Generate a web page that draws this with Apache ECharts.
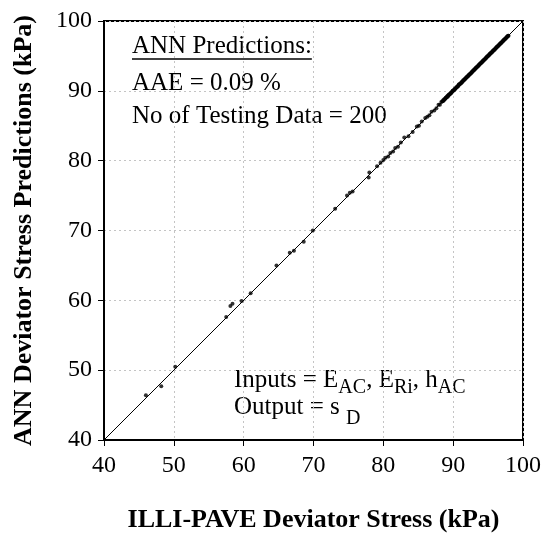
<!DOCTYPE html>
<html>
<head>
<meta charset="utf-8">
<script src="https://cdn.jsdelivr.net/npm/echarts@6/dist/echarts.min.js"></script>
<style>
  html, body { margin: 0; padding: 0; background: #fff; }
  #chart { width: 546px; height: 544px; }
</style>
</head>
<body>
<div id="chart"></div>
<script>
// axis range and ticks
const axisMin = 40
const axisMax = 100
const tickStep = 10

// line of equality
const equalityLine = [[40, 40], [100, 100]]

// [ILLI-PAVE, ANN] pairs
const testPoints = [
  [46.0, 46.4], [48.2, 47.7], [50.2, 50.5], [57.5, 57.6], [58.1, 59.2],
  [58.4, 59.5], [59.7, 59.9], [61.0, 61.0], [64.7, 65.0], [66.6, 66.8],
  [67.2, 67.1], [68.6, 68.4], [69.9, 70.0], [73.1, 73.1], [74.8, 75.0],
  [75.2, 75.4], [75.6, 75.6], [77.9, 77.6], [78.0, 78.3], [79.1, 79.2],
  [79.6, 79.7], [80.0, 80.1], [80.3, 80.4], [80.7, 80.6], [81.0, 81.1],
  [81.4, 81.3], [81.7, 81.8], [82.1, 82.0], [82.5, 82.6], [83.0, 83.3],
  [83.6, 83.5], [84.2, 84.1], [84.8, 84.9], [85.1, 85.0], [85.5, 85.6],
  [86.0, 86.1], [86.3, 86.3], [86.6, 86.5], [86.9, 87.0], [87.3, 87.2],
  [87.6, 87.5], [87.9, 88.0], [88.1, 88.0], [88.3, 88.4], [88.45, 88.5],
  [88.52, 88.5], [88.6, 88.7], [88.66, 88.6], [88.73, 88.8], [88.8, 88.8],
  [88.88, 88.9], [88.93, 89.0], [89.0, 89.0], [89.07, 89.1], [89.12, 89.1],
  [89.2, 89.3], [89.26, 89.2], [89.33, 89.4], [89.4, 89.4], [89.46, 89.5],
  [89.51, 89.5], [89.6, 89.6], [89.65, 89.7], [89.72, 89.7], [89.8, 89.8],
  [89.86, 89.9], [89.93, 90.0], [90.0, 90.0], [90.05, 90.1], [90.11, 90.1],
  [90.2, 90.2], [90.25, 90.3], [90.31, 90.3], [90.4, 90.4], [90.46, 90.5],
  [90.52, 90.5], [90.6, 90.6], [90.67, 90.7], [90.73, 90.7], [90.8, 90.9],
  [90.86, 90.9], [90.92, 90.9], [91.0, 91.0], [91.07, 91.1], [91.13, 91.1],
  [91.2, 91.2], [91.26, 91.3], [91.33, 91.3], [91.4, 91.4], [91.45, 91.5],
  [91.52, 91.5], [91.6, 91.6], [91.66, 91.7], [91.71, 91.7], [91.8, 91.8],
  [91.86, 91.9], [91.93, 91.9], [92.0, 92.0], [92.06, 92.1], [92.12, 92.1],
  [92.2, 92.2], [92.26, 92.3], [92.32, 92.3], [92.4, 92.4], [92.47, 92.5],
  [92.53, 92.5], [92.6, 92.6], [92.66, 92.7], [92.72, 92.7], [92.8, 92.8],
  [92.86, 92.9], [92.93, 92.9], [93.0, 93.0], [93.05, 93.1], [93.12, 93.1],
  [93.2, 93.2], [93.25, 93.3], [93.31, 93.3], [93.4, 93.4], [93.46, 93.5],
  [93.53, 93.5], [93.6, 93.6], [93.65, 93.7], [93.72, 93.7], [93.8, 93.8],
  [93.86, 93.9], [93.92, 93.9], [94.0, 94.0], [94.06, 94.1], [94.13, 94.1],
  [94.2, 94.2], [94.26, 94.3], [94.32, 94.3], [94.4, 94.4], [94.46, 94.5],
  [94.52, 94.5], [94.6, 94.6], [94.66, 94.7], [94.73, 94.7], [94.8, 94.8],
  [94.85, 94.9], [94.92, 94.9], [95.0, 95.0], [95.06, 95.1], [95.12, 95.1],
  [95.2, 95.2], [95.25, 95.3], [95.32, 95.3], [95.4, 95.4], [95.46, 95.5],
  [95.53, 95.5], [95.6, 95.6], [95.66, 95.7], [95.72, 95.7], [95.8, 95.8],
  [95.86, 95.9], [95.93, 95.9], [96.0, 96.0], [96.06, 96.1], [96.12, 96.1],
  [96.2, 96.2], [96.26, 96.3], [96.32, 96.3], [96.4, 96.4], [96.46, 96.5],
  [96.52, 96.5], [96.6, 96.6], [96.66, 96.7], [96.73, 96.7], [96.8, 96.8],
  [96.86, 96.9], [96.92, 96.9], [97.0, 97.0], [97.06, 97.1], [97.13, 97.1],
  [97.2, 97.2], [97.26, 97.3], [97.33, 97.3], [97.4, 97.4], [97.46, 97.5],
  [97.53, 97.5], [97.6, 97.6], [97.67, 97.7], [97.73, 97.7], [97.8, 97.8],
  [97.86, 97.9], [97.93, 97.9]
]

const xTitle = 'ILLI-PAVE Deviator Stress (kPa)'
const yTitle = 'ANN Deviator Stress Predictions (kPa)'

const serif = '"Liberation Serif", "Times New Roman", serif'
const ctx = document.createElement('canvas').getContext('2d')

// lay out a run of text pieces (for subscripts) from a left x and a baseline
function textRun(x, baseline, parts) {
  const out = []
  parts.forEach((p) => {
    const fs = p.size || 25
    ctx.font = fs + 'px ' + serif
    out.push({
      type: 'text',
      x: x,
      y: baseline + (p.dy || 0) - 0.34 * fs,
      silent: true,
      style: { text: p.t, fontSize: fs, fontFamily: serif, fill: '#000', verticalAlign: 'middle' }
    })
    x += ctx.measureText(p.t).width
  })
  return out
}

const chart = echarts.init(document.getElementById('chart'))

const axisCommon = {
  type: 'value',
  min: axisMin,
  max: axisMax,
  interval: tickStep,
  nameLocation: 'middle',
  nameTextStyle: { fontFamily: serif, fontSize: 26, fontWeight: 'bold', color: '#000' },
  axisLine: { show: true, lineStyle: { color: '#000', width: 2 } },
  axisTick: { show: true, inside: false, length: 6, lineStyle: { color: '#000', width: 1 } },
  axisLabel: { fontFamily: serif, fontSize: 24, color: '#000' },
  splitLine: { show: true, lineStyle: { color: '#c4c4c4', width: 1, type: [2, 3] } }
}

const sub = { size: 20 }
const graphics = [].concat(
  textRun(132, 55, [{ t: 'ANN Predictions:' }]),
  textRun(132, 92, [{ t: 'AAE = 0.09 %' }]),
  textRun(132, 125, [{ t: 'No of Testing Data = 200' }]),
  textRun(234, 389, [
    { t: 'Inputs = E' }, { t: 'AC', size: sub.size, dy: 6 }, { t: ', E' },
    { t: 'Ri', size: sub.size, dy: 6 }, { t: ', h' }, { t: 'AC', size: sub.size, dy: 6 }
  ]),
  textRun(234, 416, [{ t: 'Output = s ' }, { t: 'D', size: sub.size, dy: 10 }])
)
// underline of the first annotation line
ctx.font = '25px ' + serif
graphics.push({
  type: 'line',
  silent: true,
  shape: { x1: 132, y1: 59, x2: 132 + ctx.measureText('ANN Predictions:').width, y2: 59 },
  style: { stroke: '#000', lineWidth: 1.5 }
})

chart.setOption({
  animation: false,
  backgroundColor: '#fff',
  grid: {
    left: 104, top: 21, width: 419, height: 419,
    show: true, borderColor: '#000', borderWidth: 2
  },
  xAxis: Object.assign({}, axisCommon, {
    name: xTitle,
    nameGap: 67,
    axisLabel: Object.assign({}, axisCommon.axisLabel, { margin: 14 })
  }),
  yAxis: Object.assign({}, axisCommon, {
    name: yTitle,
    nameGap: 67,
    axisLabel: Object.assign({}, axisCommon.axisLabel, { margin: 12 })
  }),
  graphic: graphics,
  series: [
    {
      type: 'line',
      data: equalityLine,
      showSymbol: false,
      lineStyle: { color: '#000', width: 1 },
      z: 2
    },
    {
      type: 'scatter',
      data: testPoints,
      symbol: 'circle',
      symbolSize: 4,
      itemStyle: { color: '#000' },
      z: 3
    }
  ]
})
</script>
</body>
</html>
